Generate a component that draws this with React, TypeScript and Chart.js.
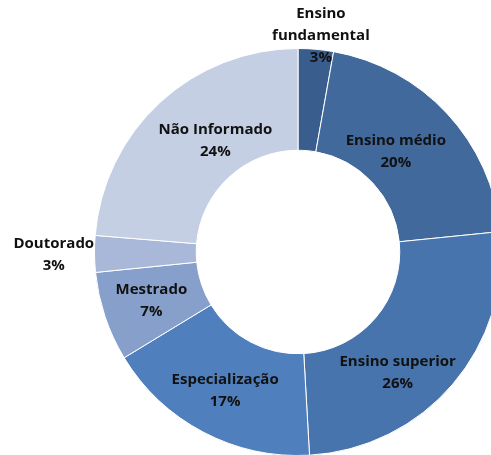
import React, { useEffect, useRef } from "react";
import { Chart, registerables } from "chart.js";

Chart.register(...registerables);

const categories = [
  ["Ensino", "fundamental"],
  ["Ensino médio"],
  ["Ensino superior"],
  ["Especialização"],
  ["Mestrado"],
  ["Doutorado"],
  ["Não Informado"],
];
const shares = [2.8, 20.6, 25.7, 17.2, 7.1, 2.9, 23.7];
const percentLabels = ["3%", "20%", "26%", "17%", "7%", "3%", "24%"];
const colors = ["#395d8c", "#41699c", "#4874ad", "#4f80bd", "#87a0cb", "#a9b8d9", "#c4cfe3"];

// label placement: radius relative to outer radius, angle shift (degrees)
const labelPlacement = [
  { r: 1.07, da: 1 },
  { r: 0.69, da: -3 },
  { r: 0.77, da: 10 },
  { r: 0.77, da: 0 },
  { r: 0.76, da: 0 },
  { r: 1.2, da: 0 },
  { r: 0.68, da: 6 },
];

const labelPlugin = {
  id: "sliceLabels",
  afterDatasetsDraw(chart: any) {
    const ctx = chart.ctx;
    const meta = chart.getDatasetMeta(0);
    ctx.save();
    ctx.font = "bold 15px 'Open Sans'";
    ctx.fillStyle = "#111111";
    ctx.textAlign = "center";
    ctx.textBaseline = "middle";
    const lineH = 22;
    meta.data.forEach((arc: any, i: number) => {
      const { x, y, startAngle, endAngle, outerRadius } = arc.getProps(
        ["x", "y", "startAngle", "endAngle", "outerRadius"],
        true
      );
      const p = labelPlacement[i];
      const mid = (startAngle + endAngle) / 2 + (p.da * Math.PI) / 180;
      const r = outerRadius * p.r;
      const cx = x + Math.cos(mid) * r;
      const cy = y + Math.sin(mid) * r;
      const lines = [...categories[i], percentLabels[i]];
      const top = cy - ((lines.length - 1) * lineH) / 2;
      lines.forEach((t, k) => ctx.fillText(t, cx, top + k * lineH));
    });
    ctx.restore();
  },
};

export default function App() {
  const ref = useRef<HTMLCanvasElement>(null);
  useEffect(() => {
    const chart = new Chart(ref.current!, {
      type: "doughnut",
      data: {
        labels: categories.map((c) => c.join(" ")),
        datasets: [
          {
            data: shares,
            backgroundColor: colors,
            borderColor: "#ffffff",
            borderWidth: 1,
          },
        ],
      },
      options: {
        responsive: false,
        animation: false,
        cutout: "50%",
        layout: { padding: { left: 94, top: 48, right: 98, bottom: 144 } },
        plugins: { legend: { display: false }, tooltip: { enabled: false } },
      },
      plugins: [labelPlugin],
    });
    return () => chart.destroy();
  }, []);
  return (
    <div style={{ position: "absolute", left: 0, top: 0, width: 491, height: 455, overflow: "hidden", background: "#fff" }}>
      <canvas ref={ref} width={600} height={600} style={{ position: "absolute", left: 0, top: 0, width: 600, height: 600 }} />
    </div>
  );
}
